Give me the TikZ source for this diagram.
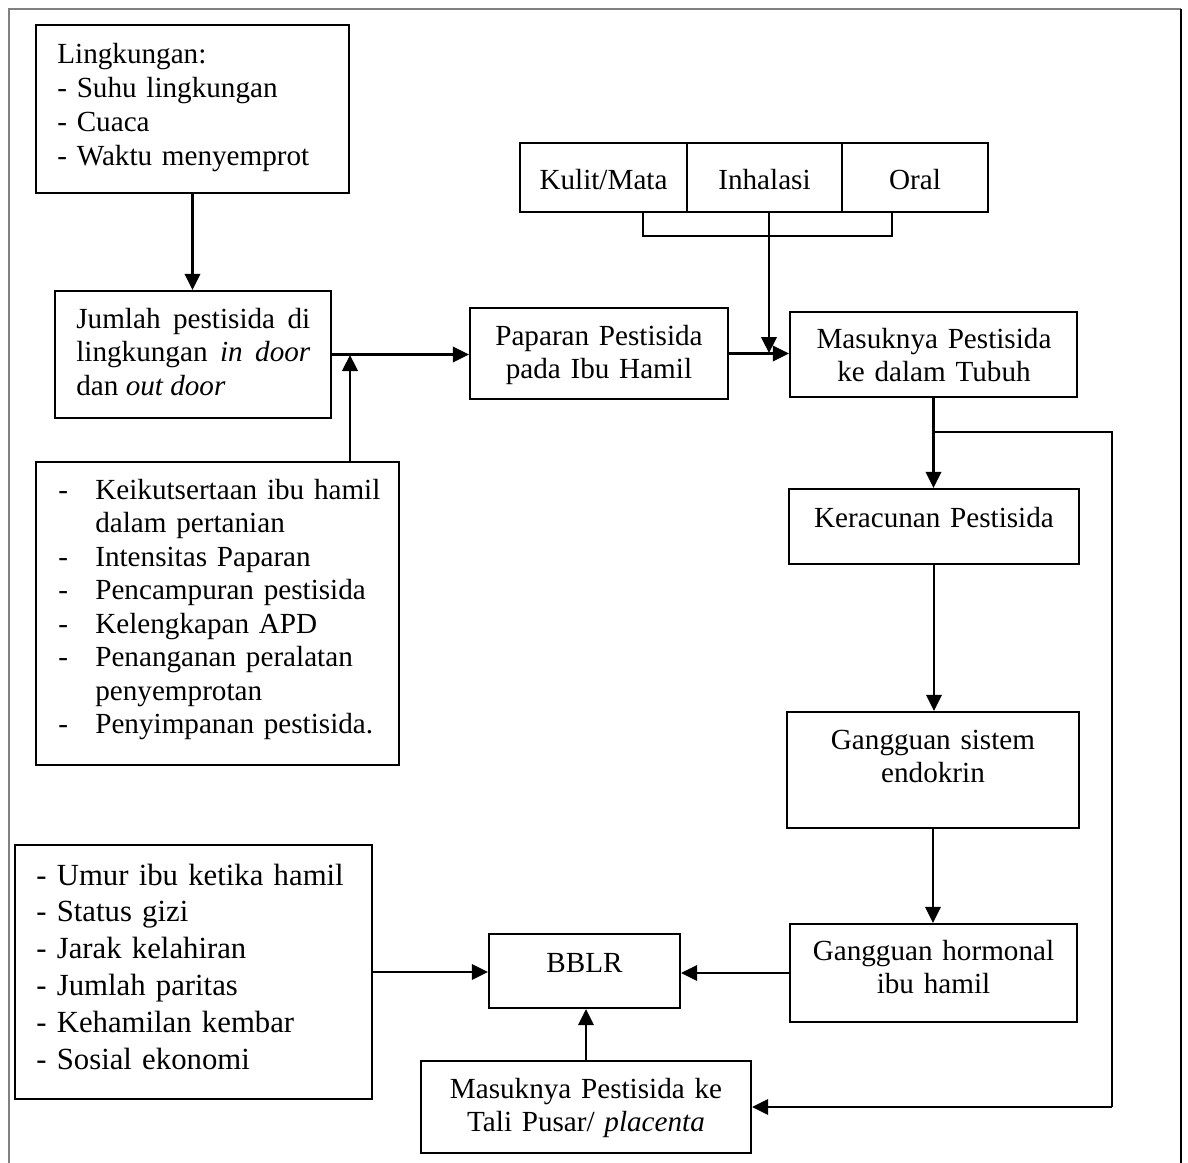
\documentclass[tikz,border=0pt]{standalone}
\usepackage{fontspec}
\setmainfont{Liberation Serif}
\usetikzlibrary{arrows.meta}

% box given by its corners: name, x1, y1, x2, y2 (drawing units)
\newcommand\flowbox[5]{%
  \node[box, minimum width={(#4-#2)*0.02cm}, minimum height={(#5-#3)*0.02cm}]
    (#1) at ({(#2+#4)/2},{(#3+#5)/2}) {};}

\newcommand\normsize{\fontsize{16.6}{19.2}\selectfont}
\newcommand\bigsize{\fontsize{17.5}{21}\selectfont}

\begin{document}
\begin{tikzpicture}[x=0.02cm, y=-0.02cm,
  box/.style={draw, line width=1.3pt, inner sep=0pt},
  txtc/.style={inner sep=0pt, font=\normsize, align=center, anchor=base, text width=7cm},
  txtl/.style={inner sep=0pt, align=left, anchor=base west, text width=#1},
  arr/.style={line width=1.3pt, -{Triangle[length=0.32cm, width=0.31cm]}},
  link/.style={line width=1.3pt},
  thinlink/.style={line width=0.8pt}]

\useasboundingbox (0,0) rectangle (1188,1163);

% page frame
\draw[gray, line width=1pt] (9,1175) -- (9,9) -- (1181,9);
\draw[line width=0.9pt] (1181,9) -- (1181,1175);

% boxes
\flowbox{env}{36}{25}{349}{193}
\flowbox{amt}{55}{291}{331}{418}
\flowbox{behav}{36}{462}{399}{765}
\flowbox{exp}{470}{308}{728}{399}
\flowbox{kulit}{520}{143}{687}{212}
\flowbox{inh}{687}{143}{842}{212}
\flowbox{oral}{842}{143}{988}{212}
\flowbox{intake}{790}{312}{1077}{397}
\flowbox{poison}{789}{489}{1079}{564}
\flowbox{endo}{787}{712}{1079}{828}
\flowbox{horm}{790}{924}{1077}{1022}
\flowbox{bblr}{489}{934}{680}{1008}
\flowbox{mat}{15}{845}{372}{1099}
\flowbox{cord}{421}{1061}{751}{1153}

% texts
\node[txtl=8cm, font=\fontsize{16.6}{19.4}\selectfont] (env-t) at (57,63)
  {Lingkungan:\\- Suhu lingkungan\\- Cuaca\\- Waktu menyemprot};
\node[inner sep=0pt, font=\normsize, anchor=base west, text width=4.68cm, align=justify] (amt-t) at (76,328)
  {Jumlah pestisida di lingkungan \textit{in door} dan \textit{out door}};
\node[txtl=8cm, font=\fontsize{16.6}{19.1}\selectfont] (behav-t) at (58,499)
  {\makebox[0.74cm][l]{-}Keikutsertaan ibu hamil\\
   \hspace*{0.74cm}dalam pertanian\\
   \makebox[0.74cm][l]{-}Intensitas Paparan\\
   \makebox[0.74cm][l]{-}Pencampuran pestisida\\
   \makebox[0.74cm][l]{-}Kelengkapan APD\\
   \makebox[0.74cm][l]{-}Penanganan peralatan\\
   \hspace*{0.74cm}penyemprotan\\
   \makebox[0.74cm][l]{-}Penyimpanan pestisida.};
\node[txtl=8cm, font=\bigsize] (mat-t) at (36,885)
  {- Umur ibu ketika hamil\\- Status gizi\\- Jarak kelahiran\\- Jumlah paritas\\- Kehamilan kembar\\- Sosial ekonomi};

\node[txtc] (kulit-t) at (603.5,189) {Kulit/Mata};
\node[txtc] (inh-t) at (764.5,189) {Inhalasi};
\node[txtc] (oral-t) at (915,189) {Oral};
\node[txtc] (exp-t) at (599,345) {Paparan Pestisida\\pada Ibu Hamil};
\node[txtc] (intake-t) at (934,348) {Masuknya Pestisida\\ke dalam Tubuh};
\node[txtc] (poison-t) at (934,527) {Keracunan Pestisida};
\node[txtc] (endo-t) at (933,749) {Gangguan sistem\\endokrin};
\node[txtc] (horm-t) at (933.5,960) {Gangguan hormonal\\ibu hamil};
\node[txtc] (bblr-t) at (584.5,972) {BBLR};
\node[txtc] (cord-t) at (586,1098) {Masuknya Pestisida ke\\Tali Pusar/ \textit{placenta}};

% junction points
\coordinate (behavIn) at (350,355);
\coordinate (routeL) at (643,236);
\coordinate (routeR) at (892,236);
\coordinate (routeIn) at (769,353);
\coordinate (split) at (933.5,432);
\coordinate (sideTop) at (1112,432);
\coordinate (sideBot) at (1112,1107);

% connectors
\draw[arr] (env.south) -- (env.south |- amt.north);
\draw[arr] (amt.east) -- (amt.east -| exp.west);
\draw[arr] (behav.north -| behavIn) -- (behavIn);
\draw[arr] (exp.east) -- (exp.east -| intake.west);
\draw[link] (kulit.south -| routeL) -- (routeL) -- (routeR) -- (oral.south -| routeR);
\draw[arr] (inh.south -| routeIn) -- (routeIn);
\draw[arr] (intake.south) -- (intake.south |- poison.north);
\draw[arr] (poison.south) -- (poison.south |- endo.north);
\draw[arr] (endo.south) -- (endo.south |- horm.north);
\draw[thinlink] (intake.south |- split) -- (sideTop) -- (sideBot);
\draw[arr] (sideBot) -- (sideBot -| cord.east);
\draw[arr] (horm.west) -- (horm.west -| bblr.east);
\draw[arr] (mat.east) -- (mat.east -| bblr.west);
\draw[arr] (cord.north) -- (cord.north |- bblr.south);

\end{tikzpicture}
\end{document}
